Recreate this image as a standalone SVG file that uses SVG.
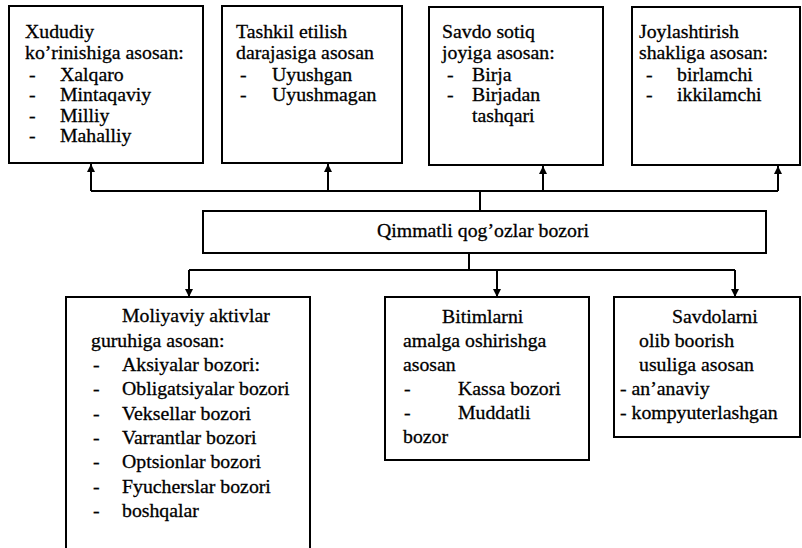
<svg xmlns="http://www.w3.org/2000/svg" width="802" height="548" viewBox="0 0 802 548">
<style>
.box{fill:#fff;stroke:#000;stroke-width:2}
.c{fill:none;stroke:#000;stroke-width:2}
.t text{fill:#000;stroke:#000;stroke-width:0.3}
</style>
<defs>
<marker id="ah" viewBox="0 0 10 10" refX="10" refY="5" markerWidth="4" markerHeight="4" orient="auto" markerUnits="strokeWidth">
<path d="M0,0 L10,5 L0,10 z" fill="#000"/>
</marker>
</defs>
<rect width="802" height="548" fill="#fff"/>
<g id="connectors">
<path class="c" d="M91,191 H778"/>
<path class="c" d="M480,191 V211"/>
<path class="c" d="M91,191 V164" marker-end="url(#ah)"/>
<path class="c" d="M328,191 V164" marker-end="url(#ah)"/>
<path class="c" d="M543,191 V166" marker-end="url(#ah)"/>
<path class="c" d="M778,191 V166" marker-end="url(#ah)"/>
<path class="c" d="M469,253 V270"/>
<path class="c" d="M189,270 H735"/>
<path class="c" d="M189,270 V297" marker-end="url(#ah)"/>
<path class="c" d="M497,270 V297" marker-end="url(#ah)"/>
<path class="c" d="M735,270 V297" marker-end="url(#ah)"/>
</g>
<g class="t" font-family="'Liberation Serif', 'Times New Roman', serif" font-size="19.8">
<g id="n1">
<rect class="box" x="9" y="6" width="194" height="157"/>
<text x="25" y="38">Xududiy</text>
<text x="25" y="59">ko’rinishiga asosan:</text>
<text x="29" y="81">-</text><text x="60" y="81">Xalqaro</text>
<text x="29" y="101">-</text><text x="60" y="101">Mintaqaviy</text>
<text x="29" y="122">-</text><text x="60" y="122">Milliy</text>
<text x="29" y="142">-</text><text x="60" y="142">Mahalliy</text>
</g>
<g id="n2">
<rect class="box" x="222" y="6" width="180" height="157"/>
<text x="236" y="38">Tashkil etilish</text>
<text x="236" y="59">darajasiga asosan</text>
<text x="240" y="81">-</text><text x="272" y="81">Uyushgan</text>
<text x="240" y="101">-</text><text x="272" y="101">Uyushmagan</text>
</g>
<g id="n3">
<rect class="box" x="429" y="7" width="174" height="158"/>
<text x="442" y="38">Savdo sotiq</text>
<text x="442" y="59">joyiga asosan:</text>
<text x="447" y="81">-</text><text x="472" y="81">Birja</text>
<text x="447" y="101">-</text><text x="472" y="101">Birjadan</text>
<text x="472" y="122">tashqari</text>
</g>
<g id="n4">
<rect class="box" x="632" y="7" width="168" height="158"/>
<text x="639" y="38">Joylashtirish</text>
<text x="639" y="59">shakliga asosan:</text>
<text x="646" y="81">-</text><text x="677" y="81">birlamchi</text>
<text x="646" y="101">-</text><text x="677" y="101">ikkilamchi</text>
</g>
<g id="n0">
<rect class="box" x="203" y="211" width="563" height="42"/>
<text x="377" y="237">Qimmatli qog’ozlar bozori</text>
</g>
<g id="n5">
<rect class="box" x="66" y="297" width="244" height="270"/>
<text x="122" y="322">Moliyaviy aktivlar</text>
<text x="91" y="347">guruhiga asosan:</text>
<text x="93" y="371">-</text><text x="122" y="371">Aksiyalar bozori:</text>
<text x="93" y="395">-</text><text x="122" y="395">Obligatsiyalar bozori</text>
<text x="93" y="420">-</text><text x="122" y="420">Veksellar bozori</text>
<text x="93" y="444">-</text><text x="122" y="444">Varrantlar bozori</text>
<text x="93" y="468">-</text><text x="122" y="468">Optsionlar bozori</text>
<text x="93" y="493">-</text><text x="122" y="493">Fyucherslar bozori</text>
<text x="93" y="517">-</text><text x="122" y="517">boshqalar</text>
</g>
<g id="n6">
<rect class="box" x="385" y="297" width="204" height="163"/>
<text x="442" y="323">Bitimlarni</text>
<text x="403" y="347">amalga oshirishga</text>
<text x="403" y="371">asosan</text>
<text x="404" y="395">-</text><text x="458" y="395">Kassa bozori</text>
<text x="404" y="419">-</text><text x="458" y="419">Muddatli</text>
<text x="403" y="443">bozor</text>
</g>
<g id="n7">
<rect class="box" x="614" y="297" width="186" height="140"/>
<text x="672" y="323">Savdolarni</text>
<text x="639" y="347">olib boorish</text>
<text x="639" y="371">usuliga asosan</text>
<text x="620" y="395">- an’anaviy</text>
<text x="620" y="419">- kompyuterlashgan</text>
</g>
</g>
</svg>
